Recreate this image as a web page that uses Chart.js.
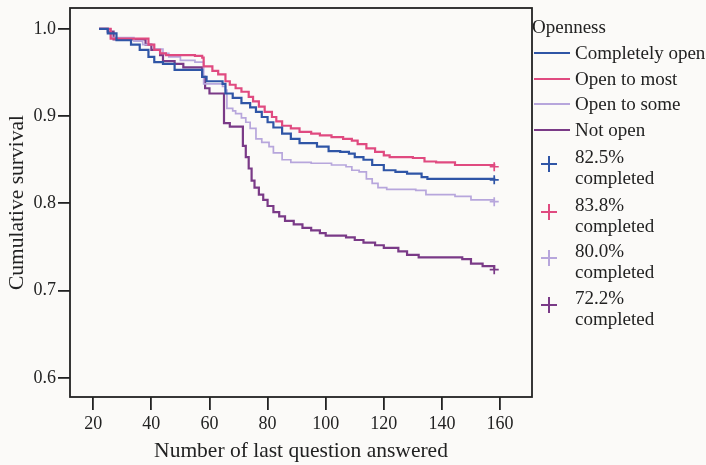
<!DOCTYPE html>
<html>
<head>
<meta charset="utf-8">
<script src="https://cdn.jsdelivr.net/npm/chart.js@4/dist/chart.umd.min.js"></script>
<style>
  body { margin: 0; background: #fbfaf8; }
  #wrap { position: relative; width: 706px; height: 465px; font-family: "Liberation Serif", serif; color: #222; }
  #legend { position: absolute; left: 0; top: 0; font-size: 19px; }
  .txt { position: absolute; white-space: nowrap; line-height: 20px; }
  .ln { position: absolute; height: 2px; width: 36px; }
  .cr { position: absolute; width: 16px; height: 16px; }
  .cr i { position: absolute; display: block; }
  .cr .h { left: 0; top: 7px; width: 16px; height: 2px; }
  .cr .v { left: 7px; top: 0; width: 2px; height: 16px; }
</style>
</head>
<body>
<div id="wrap">
  <canvas id="km" width="706" height="465"></canvas>
  <div id="legend"></div>
</div>
<script>
// groups and their Kaplan-Meier step points (x = question number, y = survival)
const groups = ["Completely open", "Open to most", "Open to some", "Not open"];
const completed = ["82.5%", "83.8%", "80.0%", "72.2%"];
const colors = ["#2f55a6", "#e04a80", "#b7a6dc", "#7a3a87"];

const openX = [22, 25, 28, 33, 36, 39, 41, 44, 48, 57.5, 59, 64.5, 65.5, 68, 71, 74, 76, 78, 80, 82, 85, 88, 91, 97, 101, 105, 108, 110, 113, 116, 120, 124, 128, 133, 135, 158];
const openY = [1.0, 0.995, 0.987, 0.982, 0.976, 0.968, 0.962, 0.96, 0.953, 0.945, 0.94, 0.937, 0.926, 0.921, 0.915, 0.91, 0.905, 0.899, 0.893, 0.887, 0.88, 0.874, 0.869, 0.865, 0.86, 0.859, 0.857, 0.853, 0.85, 0.844, 0.838, 0.836, 0.834, 0.830, 0.828, 0.827];

const mostX = [22, 26, 39, 41, 43, 45, 55, 57.5, 58, 61, 63, 65.5, 67, 69, 71, 73.5, 75, 77, 79, 81.5, 83, 85, 88, 91, 95, 98, 102, 106, 109, 111, 114, 117, 120, 122, 130, 134, 138, 144.5, 158];
const mostY = [1.0, 0.989, 0.982, 0.976, 0.972, 0.97, 0.969, 0.967, 0.957, 0.952, 0.948, 0.94, 0.936, 0.932, 0.928, 0.922, 0.917, 0.911, 0.905, 0.899, 0.894, 0.889, 0.886, 0.882, 0.88, 0.878, 0.876, 0.874, 0.872, 0.868, 0.863, 0.859, 0.855, 0.853, 0.852, 0.848, 0.847, 0.844, 0.842];

const someX = [22, 26, 34, 37, 41, 44, 46, 50, 55, 58, 64.5, 65.5, 66, 68, 69, 71, 72.5, 74, 76, 78, 80.5, 82, 85, 88, 95, 102, 107, 109, 111.5, 114, 116, 118, 121, 131, 134.5, 144.5, 150, 158];
const someY = [1.0, 0.99, 0.986, 0.982, 0.977, 0.972, 0.968, 0.964, 0.962, 0.937, 0.934, 0.93, 0.909, 0.906, 0.903, 0.898, 0.893, 0.886, 0.874, 0.87, 0.865, 0.858, 0.85, 0.847, 0.846, 0.844, 0.842, 0.838, 0.836, 0.828, 0.823, 0.818, 0.816, 0.815, 0.81, 0.808, 0.804, 0.802];

const notX = [22, 25, 27, 38, 40, 43, 44, 48, 51, 57.5, 58.5, 60, 65, 67, 71.5, 72.5, 73.5, 74.5, 75.5, 77, 78.5, 80, 82, 84, 86, 89, 92, 95, 98, 100, 107, 110, 113, 117, 120, 125, 128, 132, 147, 150, 154, 158];
const notY = [1.0, 0.997, 0.988, 0.982, 0.976, 0.97, 0.963, 0.96, 0.956, 0.945, 0.932, 0.926, 0.892, 0.888, 0.866, 0.853, 0.84, 0.826, 0.818, 0.81, 0.804, 0.797, 0.79, 0.785, 0.78, 0.776, 0.772, 0.769, 0.766, 0.763, 0.761, 0.758, 0.755, 0.752, 0.749, 0.745, 0.741, 0.738, 0.736, 0.731, 0.728, 0.724];

// censored (completed) marks at the end of each curve
const censorX = [158, 158, 158, 158];
const censorY = [0.827, 0.842, 0.802, 0.724];

const xTicks = [20, 40, 60, 80, 100, 120, 140, 160];
const yTicks = [0.6, 0.7, 0.8, 0.9, 1.0];

const seriesX = [openX, mostX, someX, notX];
const seriesY = [openY, mostY, someY, notY];

function pts(xs, ys) {
  const out = [];
  for (let i = 0; i < Math.min(xs.length, ys.length); i++) out.push({ x: xs[i], y: ys[i] });
  return out;
}

const datasets = [];
groups.forEach((g, i) => {
  datasets.push({
    label: g,
    data: pts(seriesX[i], seriesY[i]),
    stepped: true,
    borderColor: colors[i],
    borderWidth: i == 2 ? 1.7 : 2.2,
    pointRadius: 0,
    fill: false
  });
});
groups.forEach((g, i) => {
  datasets.push({
    label: completed[i] + " completed",
    data: [{ x: censorX[i], y: censorY[i] }],
    showLine: false,
    pointStyle: 'cross',
    pointRadius: 4.5,
    borderWidth: 1.7,
    borderColor: colors[i]
  });
});

const font = { family: "Liberation Serif", size: 18 };
const titleFont = { family: "Liberation Serif", size: 21.5 };

const boxPlugin = {
  id: 'box',
  afterDatasetsDraw(chart) {
    const a = chart.chartArea, ctx = chart.ctx;
    ctx.save();
    ctx.strokeStyle = '#222';
    ctx.lineWidth = 1.8;
    ctx.strokeRect(a.left, a.top, a.right - a.left, a.bottom - a.top);
    ctx.restore();
  }
};

new Chart(document.getElementById('km'), {
  type: 'line',
  data: { datasets: datasets },
  plugins: [boxPlugin],
  options: {
    responsive: false,
    animation: false,
    layout: { padding: { top: 8, right: 174, left: 0, bottom: 0 } },
    plugins: { legend: { display: false }, tooltip: { enabled: false } },
    scales: {
      x: {
        type: 'linear',
        min: 12,
        max: 171,
        afterBuildTicks: s => { s.ticks = xTicks.map(v => ({ value: v })); },
        afterFit: s => { s.height = 68; s.paddingLeft = 0; s.paddingRight = 0; },
        grid: { display: true, drawOnChartArea: false, drawTicks: true, tickLength: 13, color: '#222', lineWidth: 1.8 },
        border: { display: false },
        ticks: { color: '#222', font: font, padding: 3, maxRotation: 0 },
        title: { display: true, text: 'Number of last question answered', color: '#222', font: titleFont, padding: { top: 0, bottom: 1 } }
      },
      y: {
        min: 0.578,
        max: 1.024,
        afterBuildTicks: s => { s.ticks = yTicks.map(v => ({ value: v })); },
        afterFit: s => { s.width = 70; s.paddingTop = 0; s.paddingBottom = 0; },
        grid: { display: true, drawOnChartArea: false, drawTicks: true, tickLength: 12, color: '#222', lineWidth: 1.8 },
        border: { display: false },
        ticks: { color: '#222', font: font, padding: 2, callback: v => v.toFixed(1) },
        title: { display: true, text: 'Cumulative survival', color: '#222', font: titleFont, padding: { top: 4, bottom: 0 } }
      }
    }
  }
});

// legend on the right side
const leg = document.getElementById('legend');
function add(html) { leg.insertAdjacentHTML('beforeend', html); }
add('<div class="txt" style="left:532px;top:17px">Openness</div>');
const lineYs = [53, 79, 104, 130];
groups.forEach((g, i) => {
  add('<div class="ln" style="left:534px;top:' + (lineYs[i] - 1) + 'px;background:' + colors[i] + '"></div>');
  add('<div class="txt" style="left:575px;top:' + (lineYs[i] - 10) + 'px">' + g + '</div>');
});
const crossYs = [164, 212, 258, 305];
completed.forEach((c, i) => {
  const y = crossYs[i];
  add('<div class="cr" style="left:541px;top:' + (y - 8) + 'px"><i class="h" style="background:' + colors[i] + '"></i><i class="v" style="background:' + colors[i] + '"></i></div>');
  add('<div class="txt" style="left:575px;top:' + (y - 17) + 'px">' + c + '</div>');
  add('<div class="txt" style="left:575px;top:' + (y + 4) + 'px">completed</div>');
});
</script>
</body>
</html>
